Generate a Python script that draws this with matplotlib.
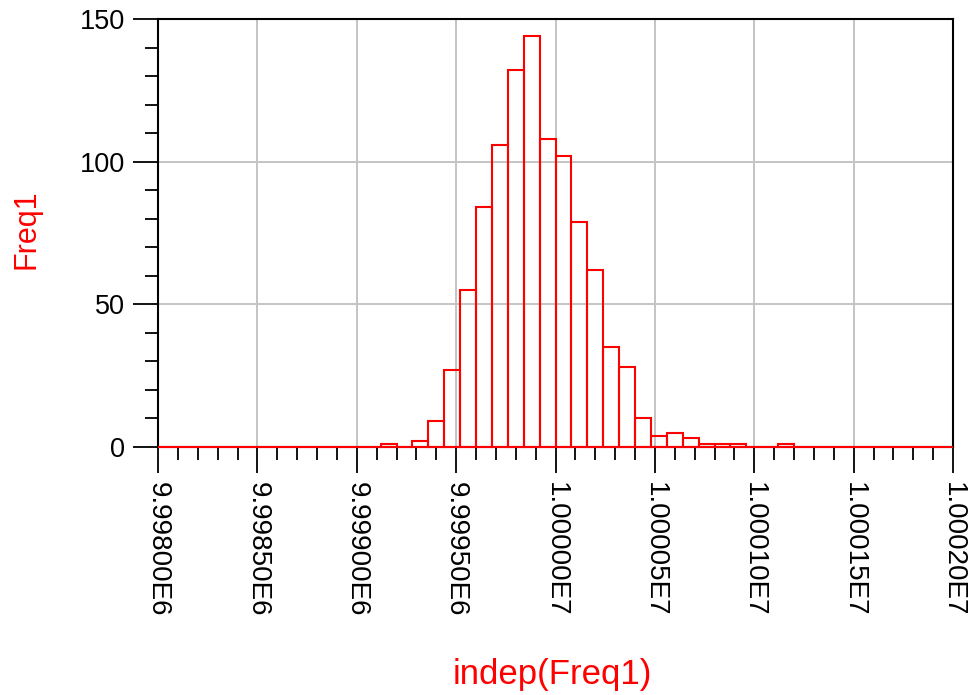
import numpy as np
import matplotlib
matplotlib.use("Agg")
import matplotlib.pyplot as plt
from matplotlib.ticker import MultipleLocator, FuncFormatter

# -------------------------
# DATA (histogram of Freq1, 80 Hz bins)
# -------------------------
x_start = 9.998e6
x_stop = 1.0002e7
n_bins = 50
counts = [0, 0, 0, 0, 0, 0, 0, 0, 0, 0,
          0, 0, 0, 0, 1, 0, 2, 9, 27, 55,
          84, 106, 132, 144, 108, 102, 79, 62, 35, 28,
          10, 4, 5, 3, 1, 1, 1, 0, 0, 1,
          0, 0, 0, 0, 0, 0, 0, 0, 0, 0]
x_label = "indep(Freq1)"
y_label = "Freq1"

edges = np.linspace(x_start, x_stop, n_bins + 1)
width = edges[1] - edges[0]

plt.rcParams["font.family"] = ["Liberation Sans", "DejaVu Sans"]

fig = plt.figure(figsize=(9.72, 6.95), dpi=100)
ax = fig.add_axes([0.1626, 0.3568, 0.8179, 0.6158])

ax.bar(edges[:-1], counts, width=width, align="edge", fill=False,
       edgecolor="#ff0000", linewidth=1.5, zorder=3, clip_on=False)

ax.set_xlim(x_start, x_stop)
ax.set_ylim(0, 150)

ax.xaxis.set_major_locator(MultipleLocator(500))
ax.xaxis.set_minor_locator(MultipleLocator(100))
ax.yaxis.set_major_locator(MultipleLocator(50))
ax.yaxis.set_minor_locator(MultipleLocator(10))


def fmt_x(v, pos):
    e = int(np.floor(np.log10(abs(v))))
    m = v / 10 ** e
    return f"{m:.5f}E{e}"


ax.xaxis.set_major_formatter(FuncFormatter(fmt_x))

ax.grid(True, which="major", color="#c4c4c4", linewidth=1.4, zorder=0)
ax.set_axisbelow(True)

for s in ax.spines.values():
    s.set_linewidth(1.5)
    s.set_color("black")

ax.tick_params(axis="x", which="major", direction="out", length=18.5,
               width=1.3, pad=7, labelsize=20, labelrotation=270)
ax.tick_params(axis="x", which="minor", direction="out", length=9.4, width=1.3)
ax.tick_params(axis="y", which="major", direction="out", length=18,
               width=1.3, pad=5.5, labelsize=19.5)
ax.tick_params(axis="y", which="minor", direction="out", length=9.4, width=1.3)
for lab in ax.get_xticklabels():
    lab.set_va("top")
    lab.set_ha("center")

fig.text(552 / 972, 1 - 684 / 695, x_label, color="#ff0000", fontsize=25,
         ha="center", va="baseline")
fig.text(27 / 972, 1 - 229 / 695, y_label, color="#ff0000", fontsize=22,
         ha="center", va="center", rotation=90)

fig.savefig("out.png", dpi=100)
